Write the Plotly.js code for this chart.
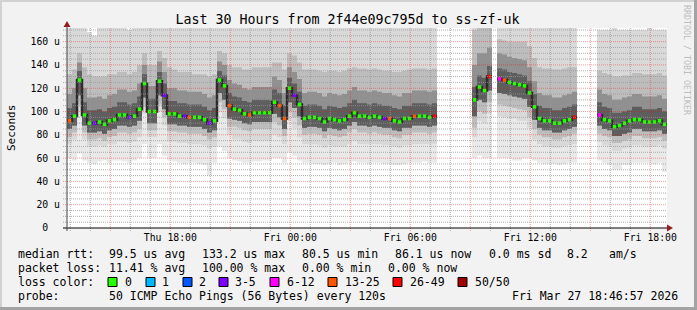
<!DOCTYPE html>
<html><head><meta charset="utf-8">
<script src="https://cdn.plot.ly/plotly-3.0.1.min.js"></script>
<style>html,body{margin:0;padding:0;background:#f2f2f2;}#chart{width:697px;height:310px;}</style>
</head><body><div id="chart"></div>
<script>
// ---------- data ----------
const startMs = Date.UTC(2026, 2, 26, 12, 50, 0);   // Thu 12:50
const stepMin = 15;                                  // one bin = 15 minutes
const spanHours = 30;

const median = [
 92,96,127,97,90,90,91,89,92,93,
 97,97,95,96,102,124,100,100,126,114,
 98,98,96,96,95,95,95,93,90,92,
 127,122,105,102,101,98,97,99,99,99,
 99,108,105,94,120,114,106,94,95,95,
 94,91,94,93,92,93,96,99,96,96,
 95,96,95,94,94,92,91,94,94,96,
 96,96,95,96,null,null,null,null,null,null,
 null,110,121,118,130,null,128,127,125,124,
 123,122,116,104,94,92,92,90,90,92,
 93,95,null,null,null,null,97,93,92,87,
 88,90,92,93,93,91,91,91,92,89];

const lossClass = [
 5,0,0,0,0,3,0,0,0,0,
 0,0,3,0,0,0,0,0,0,3,
 0,0,0,3,5,0,0,0,3,0,
 0,0,5,0,0,0,5,0,0,0,
 0,0,5,5,0,3,0,0,0,0,
 0,0,0,0,0,0,0,0,0,0,
 0,0,0,3,5,0,0,0,0,5,
 0,0,0,6,0,0,0,0,0,0,
 0,0,0,0,6,0,4,5,0,0,
 0,0,0,0,0,0,0,0,0,0,
 0,6,0,0,0,0,4,0,0,0,
 0,0,0,0,0,0,0,0,0,0];

const pingQ3 = [
 103,107,135,108,101,101,102,100,103,104,
 108,108,106,107,113,132,111,111,134,124,
 109,109,107,107,106,106,106,104,101,103,
 135,131,116,113,112,109,108,110,110,110,
 110,119,116,105,129,124,117,105,106,106,
 105,102,105,104,103,104,107,110,107,107,
 106,107,106,105,105,103,102,105,105,107,
 107,107,106,107,null,null,null,null,null,null,
 null,121,131,129,139,null,137,136,134,133,
 132,131,126,115,105,103,103,101,101,103,
 104,106,null,null,null,null,108,104,103,99,
 99,100,101,104,104,102,102,102,103,100];

const pingQ1 = [
 85,88,114,88,82,82,83,81,84,85,
 88,88,87,88,92,112,90,90,114,102,
 89,89,88,88,87,87,87,85,82,84,
 116,110,94,93,92,90,89,91,91,91,
 91,98,95,85,108,103,96,86,87,87,
 86,83,86,85,84,85,88,91,88,88,
 87,88,87,86,86,84,83,86,86,88,
 88,88,87,88,null,null,null,null,null,null,
 null,96,110,108,118,null,116,115,114,113,
 112,111,104,93,86,84,84,82,82,84,
 85,87,null,null,null,null,88,85,84,79,
 79,81,82,85,85,83,83,83,84,81];

const pingP75 = [
 115,120,142,120,112,112,113,111,114,115,
 119,119,117,118,124,140,122,122,143,134,
 120,120,118,118,117,117,117,115,112,114,
 143,140,127,124,123,120,119,121,121,121,
 121,130,127,116,138,134,128,116,117,117,
 116,113,116,115,114,115,118,121,118,118,
 117,118,117,116,116,114,113,116,116,118,
 118,118,117,118,null,null,null,null,null,null,
 null,140,150,150,155,null,150,149,147,146,
 145,144,138,126,116,114,114,112,112,114,
 115,117,null,null,null,null,119,115,114,110,
 110,112,113,115,115,113,113,113,114,111];

const pingP20 = [
 78,82,106,82,76,76,77,75,78,79,
 82,82,81,82,85,104,84,84,106,95,
 83,83,82,82,81,81,81,79,76,78,
 108,102,87,87,86,84,83,85,85,85,
 85,91,88,79,100,95,88,80,81,81,
 80,77,80,79,78,79,82,85,82,82,
 81,82,81,80,80,78,77,80,80,82,
 82,82,81,82,null,null,null,null,null,null,
 null,86,100,98,108,null,106,105,104,103,
 102,101,95,85,80,78,78,76,76,78,
 79,81,null,null,null,null,81,79,78,73,
 73,75,76,79,79,77,77,77,78,75];

const pingP90 = [
 132,136,150,138,132,130,130,130,132,132,
 134,134,132,134,140,150,140,140,152,146,
 138,136,134,134,134,132,132,132,130,132,
 152,150,140,138,138,136,136,138,138,138,
 138,142,142,136,150,148,142,136,136,136,
 135,134,135,135,134,135,137,138,137,137,
 136,137,136,135,135,134,134,135,136,137,
 137,137,136,137,null,null,null,null,null,null,
 null,170,172,172,172,null,162,161,160,160,
 160,160,156,146,138,137,137,136,136,137,
 138,138,null,null,null,null,135,133,132,130,
 130,131,131,133,133,132,132,132,133,131];

const pingP10 = [
 72,76,100,76,70,70,71,70,72,72,
 74,74,73,74,78,98,78,78,100,88,
 74,74,73,73,72,72,72,71,68,70,
 100,94,80,76,76,74,73,75,75,75,
 75,80,78,72,92,86,78,72,72,72,
 71,69,71,70,70,70,72,75,72,72,
 72,72,72,71,71,70,69,71,71,72,
 72,72,72,72,null,null,null,null,null,null,
 null,78,92,90,98,null,96,95,94,94,
 92,92,86,76,72,70,70,69,69,70,
 71,72,null,null,null,null,74,71,70,66,
 66,68,69,71,71,70,70,70,71,68];

const pingMin = [
 60,58,64,58,56,55,57,58,56,58,
 58,57,56,58,60,72,60,60,72,62,
 58,57,56,55,56,56,55,54,45,56,
 70,66,60,58,57,56,56,57,57,58,
 58,60,60,56,65,62,58,56,56,55,
 55,54,55,56,54,55,56,57,56,56,
 55,56,56,55,55,54,54,55,56,56,
 56,57,56,56,null,null,null,null,null,null,
 null,60,62,60,60,null,60,60,60,58,
 58,60,60,58,56,55,55,55,54,55,
 56,56,null,null,null,null,58,56,54,50,
 50,54,54,56,56,56,56,55,56,48];

const pingMax = [
 176,176,176,176,168,165,176,176,176,172,
 176,176,170,176,176,176,176,176,176,176,
 176,176,176,176,176,172,176,176,176,176,
 176,176,176,176,176,176,176,176,176,176,
 176,176,176,176,176,176,176,176,176,176,
 176,176,176,176,176,176,176,176,176,176,
 176,176,176,176,176,176,176,176,176,176,
 176,176,176,176,null,null,null,null,null,null,
 null,176,176,176,176,null,176,176,176,176,
 176,176,176,176,176,176,176,176,176,176,
 176,176,null,null,null,null,170,170,170,172,
 170,170,170,170,170,170,172,170,170,170];

const yTickValues = [0,20,40,60,80,100,120,140,160];
const yTickLabels = ['0\u00a0\u00a0','20 u','40 u','60 u','80 u','100 u','120 u','140 u','160 u'];
const xTickLabels = ['','Thu 18:00','','Fri 00:00','','Fri 06:00','','Fri 12:00','','Fri 18:00'];

const lossLabels = ['0','1','2','3-5','6-12','13-25','26-49','50/50'];
const lossColors = ['#26ff00','#00b8ff','#0059ff','#7e00ff','#ff00ff','#ff5500','#ff0000','#a10000'];

const titleText = 'Last 30 Hours from 2f44e09c795d to ss-zf-uk';
const rttStats  = ['99.5 us avg','133.2 us max','80.5 us min','86.1 us now','0.0 ms sd','8.2','am/s'];
const lossStats = ['11.41 % avg','100.00 % max','0.00 % min','0.00 % now'];
const probeText = '50 ICMP Echo Pings (56 Bytes) every 120s';
const stampText = 'Fri Mar 27 18:46:57 2026';

// ---------- layout helpers ----------
const L = 67, T = 28, W = 600, H = 200;
const PX = x => (x - L) / W;
const PY = y => (T + H - y) / H;
const STEP = stepMin * 60000;
const HOUR = 3600000;
const t0 = i => startMs + i * STEP;
const t1 = i => startMs + (i + 1) * STEP;
const MONO = 'DejaVu Sans Mono';

function runs(arr) {
  const out = []; let cur = null;
  arr.forEach((v, i) => {
    if (v === null) { if (cur) { out.push(cur); cur = null; } }
    else { if (!cur) cur = []; cur.push(i); }
  });
  if (cur) out.push(cur);
  return out;
}

function band(lower, upper, color) {
  const xs = [], ys = [];
  runs(upper).forEach(run => {
    const fx = [], fy = [];
    run.forEach(i => { fx.push(t0(i), t1(i)); fy.push(upper[i], upper[i]); });
    run.slice().reverse().forEach(i => { fx.push(t1(i), t0(i)); fy.push(lower[i], lower[i]); });
    xs.push(...fx, fx[0], null); ys.push(...fy, fy[0], null);
  });
  return {type:'scatter', mode:'lines', x:xs, y:ys, fill:'toself', fillcolor:color,
          line:{width:0, color:color}, hoverinfo:'skip', showlegend:false};
}

const traces = [];
traces.push(band(pingMin, pingMax, '#e9e9e9'));
traces.push(band(pingP10, pingMax, '#d9d9d9'));
traces.push(band(pingP20, pingP90, '#bdbdbd'));
traces.push(band(pingQ1, pingP75, '#909090'));
traces.push(band(pingQ1, pingQ3, '#5e5e5e'));

// dark core line along the median (step)
{
  const xs = [], ys = [];
  runs(median).forEach(run => {
    run.forEach(i => { xs.push(t0(i), t1(i)); ys.push(median[i], median[i]); });
    xs.push(null); ys.push(null);
  });
  traces.push({type:'scatter', mode:'lines', x:xs, y:ys, line:{color:'#2c2c2c', width:2.5},
               hoverinfo:'skip', showlegend:false});
}
// median markers coloured by loss
{
  const xs = [], ys = [], cs = [];
  median.forEach((v, i) => {
    if (v === null) return;
    xs.push(startMs + (i + 0.5) * STEP); ys.push(v); cs.push(lossColors[lossClass[i]]);
  });
  traces.push({type:'scatter', mode:'markers', x:xs, y:ys,
               marker:{symbol:'square', size:3.6, color:cs, line:{width:0}},
               hoverinfo:'skip', showlegend:false});
}

// ---------- shapes: grid, axes, frame, swatches ----------
const shapes = [];
const endMs = startMs + spanHours * HOUR;
const firstHour = Math.ceil(startMs / HOUR) * HOUR;
const minorCol = 'rgba(150,150,150,0.75)', majorCol = 'rgba(255,0,0,0.38)';
const xTickVals = [];
for (let t = firstHour; t <= endMs; t += HOUR) {
  const h = new Date(t).getUTCHours();
  const major = h % 3 === 0;
  if (major) xTickVals.push(t);
  shapes.push({type:'line', xref:'x', yref:'paper', x0:t, x1:t, y0:PY(231), y1:1, layer:'above',
               line:{color: major ? majorCol : minorCol, width:1, dash:'1px,1px'}});
}
for (let v = 5; v <= 170; v += 5) {
  const major = v % 20 === 0;
  shapes.push({type:'line', xref:'paper', yref:'y', x0:PX(63), x1:1, y0:v, y1:v, layer:'above',
               line:{color: major ? majorCol : minorCol, width:1, dash:'1px,1px'}});
}
// axes
shapes.push({type:'line', xref:'paper', yref:'paper', x0:PX(63), x1:PX(669), y0:0, y1:0, layer:'above',
             line:{color:'#000', width:1}});
shapes.push({type:'line', xref:'paper', yref:'paper', x0:0, x1:0, y0:PY(231), y1:PY(25), layer:'above',
             line:{color:'#444', width:1}});
shapes.push({type:'path', xref:'paper', yref:'paper', layer:'above',
             path:`M ${PX(63.5)},${PY(27)} L ${PX(70.5)},${PY(27)} L ${PX(67)},${PY(21)} Z`,
             fillcolor:'#9b1c1c', line:{width:0}});
shapes.push({type:'path', xref:'paper', yref:'paper', layer:'above',
             path:`M ${PX(667)},${PY(224.5)} L ${PX(667)},${PY(231.5)} L ${PX(673)},${PY(228)} Z`,
             fillcolor:'#9b1c1c', line:{width:0}});
// frame
shapes.push({type:'rect', xref:'paper', yref:'paper', x0:PX(0), x1:PX(697), y0:PY(0), y1:PY(2), layer:'below',
             fillcolor:'#d2d2d2', line:{width:0}});
shapes.push({type:'rect', xref:'paper', yref:'paper', x0:PX(0), x1:PX(2), y0:PY(0), y1:PY(310), layer:'below',
             fillcolor:'#d2d2d2', line:{width:0}});
shapes.push({type:'rect', xref:'paper', yref:'paper', x0:PX(0), x1:PX(697), y0:PY(307), y1:PY(310), layer:'below',
             fillcolor:'#a3a3a3', line:{width:0}});
shapes.push({type:'rect', xref:'paper', yref:'paper', x0:PX(694), x1:PX(697), y0:PY(0), y1:PY(310), layer:'below',
             fillcolor:'#a3a3a3', line:{width:0}});

// ---------- annotations ----------
const ann = [];
function txt(x, y, s, opts) {
  ann.push(Object.assign({xref:'paper', yref:'paper', x:PX(x), y:PY(y), text:s, showarrow:false,
    xanchor:'left', yanchor:'middle', font:{family:MONO, size:11.5, color:'#000'}}, opts || {}));
}
txt(11, 128, 'Seconds', {xanchor:'center', textangle:-90, font:{family:MONO, size:11, color:'#000'}});
txt(687, 60, 'RRDTOOL / TOBI OETIKER', {xanchor:'center', textangle:90, font:{family:MONO, size:8.3, color:'#bdbdbd'}});

const rttX = [107, 200, 300, 393, 487, 565, 607];
txt(16, 254, 'median rtt:');
rttStats.forEach((s, k) => txt(rttX[k], 254, s));
const lossX = [107, 200, 300, 386];
txt(16, 268, 'packet loss:');
lossStats.forEach((s, k) => txt(lossX[k], 268, s));
txt(16, 282, 'loss color:');
const boxX = [108, 146, 183, 219, 270, 328, 393, 458];
const labX = [123, 160, 197, 233, 285, 343, 408, 473];
lossLabels.forEach((s, k) => {
  shapes.push({type:'rect', xref:'paper', yref:'paper', x0:PX(boxX[k]), x1:PX(boxX[k] + 9),
               y0:PY(286.5), y1:PY(277.5), fillcolor:lossColors[k], line:{color:'#000', width:1}});
  txt(labX[k], 282, s);
});
txt(16, 296, 'probe:');
txt(107, 296, probeText);
txt(680, 296, stampText, {xanchor:'right'});

const layout = {
  width:697, height:310,
  margin:{l:L, r:697 - L - W, t:T, b:310 - T - H, pad:0},
  paper_bgcolor:'#f2f2f2', plot_bgcolor:'#ffffff',
  showlegend:false,
  title:{text:titleText, x:PX(347.5), xref:'paper', y:1 - 19/310, yref:'container', xanchor:'center', yanchor:'middle',
         font:{family:MONO, size:13.3, color:'#000'}},
  xaxis:{type:'date', range:[startMs, endMs], tickmode:'array', tickvals:xTickVals, ticktext:xTickLabels,
         showgrid:false, zeroline:false, showline:false, ticks:'', fixedrange:true,
         tickfont:{family:MONO, size:9.8, color:'#000'}, ticklabelstandoff:2},
  yaxis:{range:[0, 171.7], tickmode:'array', tickvals:yTickValues, ticktext:yTickLabels,
         showgrid:false, zeroline:false, showline:false, ticks:'', fixedrange:true,
         tickfont:{family:MONO, size:9.8, color:'#000'}, ticklabelstandoff:6},
  shapes:shapes, annotations:ann
};

Plotly.newPlot('chart', traces, layout, {displayModeBar:false, staticPlot:true});
</script></body></html>
